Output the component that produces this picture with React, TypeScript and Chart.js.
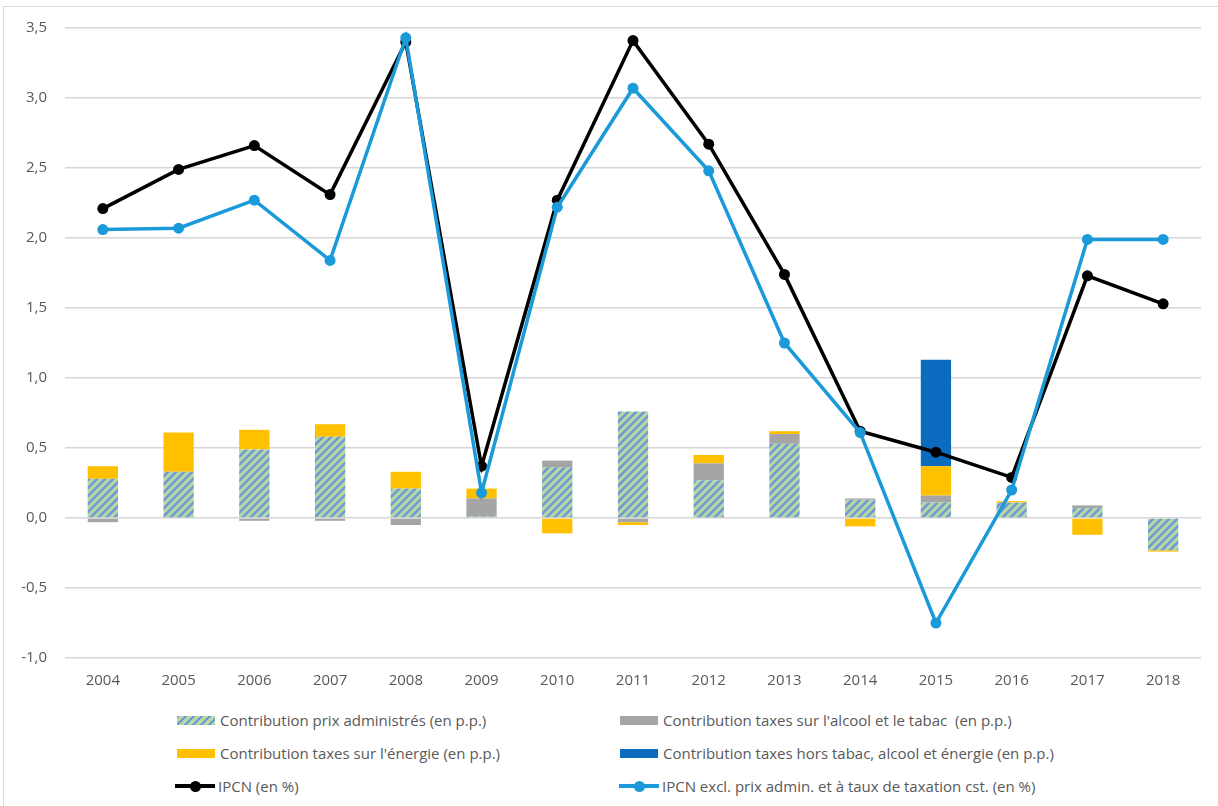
import React, { useEffect, useRef } from 'react';
import { Chart, registerables } from 'chart.js';

Chart.register(...registerables);

const years = ['2004', '2005', '2006', '2007', '2008', '2009', '2010', '2011', '2012', '2013', '2014', '2015', '2016', '2017', '2018'];
const prixAdmin = [0.28, 0.33, 0.49, 0.58, 0.21, 0.01, 0.36, 0.76, 0.27, 0.53, 0.13, 0.11, 0.11, 0.07, -0.23];
const alcoolTabac = [-0.03, 0, -0.02, -0.02, -0.05, 0.13, 0.05, -0.03, 0.12, 0.07, 0.01, 0.05, 0, 0.02, 0];
const energie = [0.09, 0.28, 0.14, 0.09, 0.12, 0.07, -0.11, -0.02, 0.06, 0.02, -0.06, 0.21, 0.01, -0.12, -0.01];
const horsTaxes = [0, 0, 0, 0, 0, 0, 0, 0, 0, 0, 0, 0.76, 0, 0, 0];
const ipcn = [2.21, 2.49, 2.66, 2.31, 3.40, 0.37, 2.27, 3.41, 2.67, 1.74, 0.62, 0.47, 0.29, 1.73, 1.53];
const ipcnExcl = [2.06, 2.07, 2.27, 1.84, 3.43, 0.18, 2.22, 3.07, 2.48, 1.25, 0.61, -0.75, 0.20, 1.99, 1.99];

const labelAdmin = 'Contribution prix administrés (en p.p.)';
const labelAlcool = "Contribution taxes sur l'alcool et le tabac  (en p.p.)";
const labelEnergie = "Contribution taxes sur l'énergie (en p.p.)";
const labelHors = 'Contribution taxes hors tabac, alcool et énergie (en p.p.)';
const labelIpcn = 'IPCN (en %)';
const labelIpcnExcl = 'IPCN excl. prix admin. et à taux de taxation cst. (en %)';

const GREEN = '#b6d9a3';
const STRIPE = '#6f99d6';
const GRAY = '#a5a5a5';
const YELLOW = '#ffc000';
const DARKBLUE = '#0b6bbf';
const BLACK = '#000000';
const LIGHTBLUE = '#1b9ad9';
const FONT = '"Open Sans", "Liberation Sans", sans-serif';

function makeHatch(): CanvasPattern | string {
  const c = document.createElement('canvas');
  const s = 8;
  c.width = s;
  c.height = s;
  const g = c.getContext('2d');
  if (!g) return GREEN;
  g.fillStyle = GREEN;
  g.fillRect(0, 0, s, s);
  g.strokeStyle = STRIPE;
  g.lineWidth = 2.6;
  g.beginPath();
  g.moveTo(0, s);
  g.lineTo(s, 0);
  g.moveTo(-s / 2, s / 2);
  g.lineTo(s / 2, -s / 2);
  g.moveTo(s / 2, s * 1.5);
  g.lineTo(s * 1.5, s / 2);
  g.stroke();
  return g.createPattern(c, 'repeat') || GREEN;
}

function LegendItem(props: { x: number; y: number; kind: 'hatch' | 'box' | 'line'; color: string; text: string }) {
  const { x, y, kind, color, text } = props;
  let marker: React.ReactNode;
  if (kind === 'line') {
    marker = (
      <div style={{ position: 'relative', width: 40, height: 12 }}>
        <div style={{ position: 'absolute', left: 0, top: 4.25, width: 40, height: 3.5, background: color }} />
        <div style={{ position: 'absolute', left: 14.5, top: 0.5, width: 11, height: 11, borderRadius: 5.5, background: color }} />
      </div>
    );
  } else {
    marker = (
      <div
        style={{
          width: 38,
          height: 9,
          background:
            kind === 'hatch'
              ? `repeating-linear-gradient(135deg, ${STRIPE} 0px, ${STRIPE} 2px, ${GREEN} 2px, ${GREEN} 5.6px)`
              : color,
        }}
      />
    );
  }
  return (
    <div style={{ position: 'absolute', left: x, top: y - 12, height: 24, display: 'flex', alignItems: 'center', whiteSpace: 'pre' }}>
      <div style={{ width: kind === 'line' ? 40 : 38, marginRight: kind === 'line' ? 3 : 5, display: 'flex', alignItems: 'center' }}>{marker}</div>
      <span style={{ fontFamily: FONT, fontSize: 15, color: '#595959' }}>{text}</span>
    </div>
  );
}

export default function App() {
  const ref = useRef<HTMLCanvasElement>(null);

  useEffect(() => {
    if (!ref.current) return;
    const hatch = makeHatch();
    const chart = new Chart(ref.current, {
      type: 'bar',
      data: {
        labels: years,
        datasets: [
          { type: 'bar', label: labelAdmin, data: prixAdmin, backgroundColor: hatch as any, order: 3, stack: 'bars', categoryPercentage: 1, barPercentage: 0.4 },
          { type: 'bar', label: labelAlcool, data: alcoolTabac, backgroundColor: GRAY, order: 3, stack: 'bars', categoryPercentage: 1, barPercentage: 0.4 },
          { type: 'bar', label: labelEnergie, data: energie, backgroundColor: YELLOW, order: 3, stack: 'bars', categoryPercentage: 1, barPercentage: 0.4 },
          { type: 'bar', label: labelHors, data: horsTaxes, backgroundColor: DARKBLUE, order: 3, stack: 'bars', categoryPercentage: 1, barPercentage: 0.4 },
          {
            type: 'line', label: labelIpcn, data: ipcn, borderColor: BLACK, backgroundColor: BLACK, borderWidth: 3.5,
            pointRadius: 5.5, pointBackgroundColor: BLACK, pointBorderColor: BLACK, pointBorderWidth: 0, order: 2, stack: 'l1', tension: 0,
          },
          {
            type: 'line', label: labelIpcnExcl, data: ipcnExcl, borderColor: LIGHTBLUE, backgroundColor: LIGHTBLUE, borderWidth: 3.5,
            pointRadius: 5.5, pointBackgroundColor: LIGHTBLUE, pointBorderColor: LIGHTBLUE, pointBorderWidth: 0, order: 1, stack: 'l2', tension: 0,
          },
        ] as any,
      },
      options: {
        responsive: false,
        animation: false,
        layout: { padding: { left: 0, right: 17, top: 28, bottom: 0 } },
        plugins: { legend: { display: false }, tooltip: { enabled: false } },
        scales: {
          x: {
            stacked: true,
            grid: { display: false, drawTicks: false },
            border: { display: false },
            ticks: { color: '#595959', font: { family: FONT, size: 15 }, padding: 14, maxRotation: 0 },
            afterFit: (s: any) => { s.height = 42; },
          },
          y: {
            stacked: true,
            min: -1,
            max: 3.5,
            grid: { color: '#d6d6d6', lineWidth: 1.5, drawTicks: false },
            border: { display: false },
            ticks: {
              stepSize: 0.5,
              color: '#595959',
              font: { family: FONT, size: 15 },
              padding: 18,
              callback: (v: any) => Number(v).toFixed(1).replace('.', ','),
            },
            afterFit: (s: any) => { s.width = 65; },
          },
        },
      } as any,
    });
    return () => chart.destroy();
  }, []);

  return (
    <div style={{ position: 'fixed', left: 0, top: 0, width: 1218, height: 806, overflow: 'hidden', background: '#fff' }}>
      <div style={{ position: 'absolute', left: 3, top: 6, width: 1300, height: 900, border: '1.5px solid #d9d9d9' }} />
      <canvas ref={ref} width={1218} height={700} style={{ position: 'absolute', left: 0, top: 0, width: 1218, height: 700 }} />
      <LegendItem x={177} y={720} kind="hatch" color={GREEN} text={labelAdmin} />
      <LegendItem x={620} y={720} kind="box" color={GRAY} text={labelAlcool} />
      <LegendItem x={177} y={753} kind="box" color={YELLOW} text={labelEnergie} />
      <LegendItem x={620} y={753} kind="box" color={DARKBLUE} text={labelHors} />
      <LegendItem x={175} y={786} kind="line" color={BLACK} text={labelIpcn} />
      <LegendItem x={619} y={786} kind="line" color={LIGHTBLUE} text={labelIpcnExcl} />
    </div>
  );
}
